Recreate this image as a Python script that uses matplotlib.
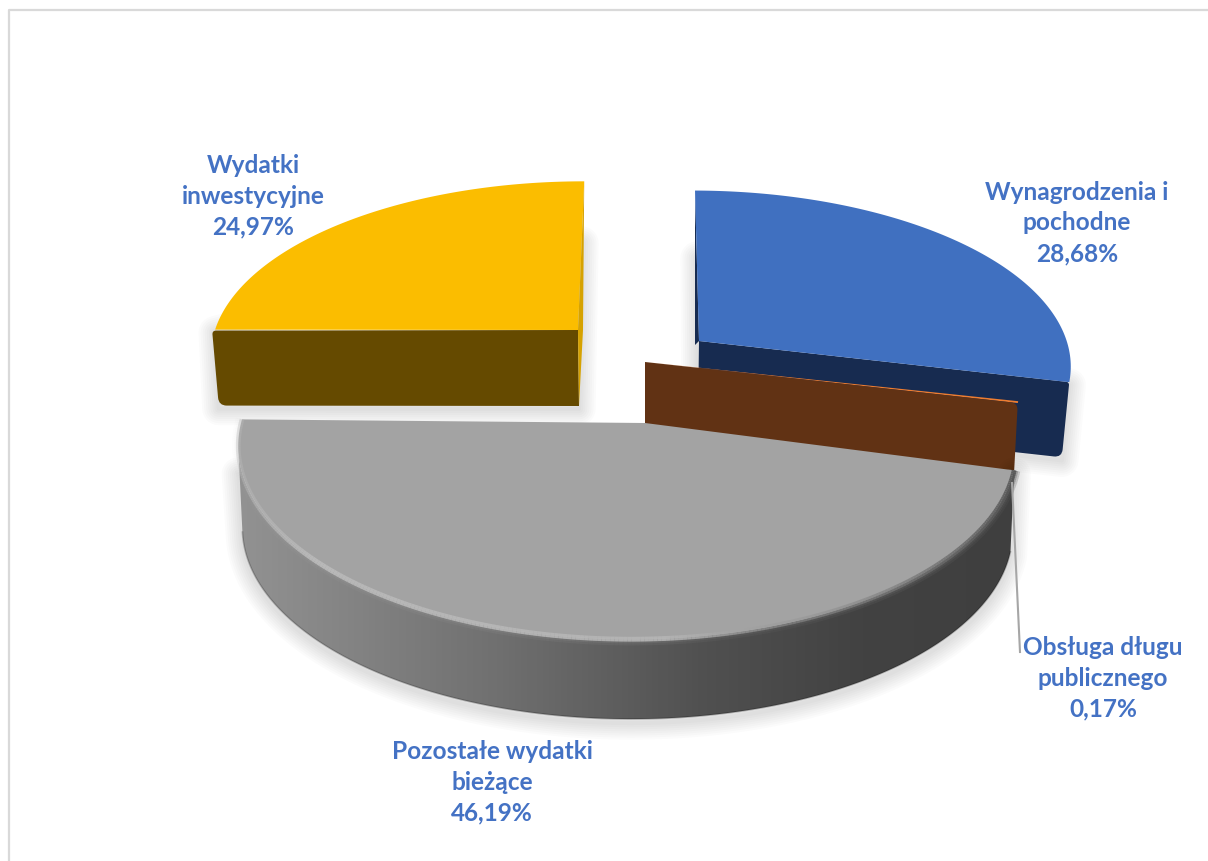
import numpy as np
import matplotlib
matplotlib.use("Agg")
import matplotlib.pyplot as plt
from matplotlib.collections import LineCollection
from matplotlib.colors import LinearSegmentedColormap
from matplotlib.patches import PathPatch, Polygon
from matplotlib.path import Path

names = ["Wynagrodzenia i\npochodne", "Obsługa długu\npublicznego",
         "Pozostałe wydatki\nbieżące", "Wydatki\ninwestycyjne"]
shares = [28.68, 0.17, 46.19, 24.97]
top_colors = ["#4070C0", "#ED7D31", "#A3A3A3", "#FBBD00"]
wall_colors = ["#172B50", "#613214", "#666666", "#654A00"]

# where each exploded slice sits on the canvas, in pixels
# cx, cy, rx, ry, near/far tilt (a, b), shear, roll, depth, bottom scale
slice_geo = [
    dict(cx=699, cy=341, rx=368, ry=170, a=0.0, b=0.13, s=4.5, t=1, dy=76, k=0.98),
    dict(cx=645, cy=362, rx=372, ry=166, a=0.0, b=0.13, s=0.0, t=0, dy=70, k=0.99),
    dict(cx=645, cy=423, rx=385, ry=188, a=0.045, b=0.13, s=0.0, t=3, dy=82, k=0.99),
    dict(cx=578, cy=330, rx=363, ry=168, a=0.0, b=0.13, s=-6.8, t=0, dy=76, k=0.99),
]
label_pos = [(1077, 223), (1103, 678), (492, 782), (253, 196)]
FONT_PT = 17.6
BLUE_TEXT = "#4472C4"


def project(theta, g, bottom=False):
    X, Y = np.cos(theta), -np.sin(theta)
    w = 1 + g["a"] * X - g["b"] * Y
    k = g["k"] if bottom else 1.0
    dy = g["dy"] if bottom else 0.0
    x = g["cx"] + k * (g["rx"] * X + g["s"] * Y) / w
    y = g["cy"] + dy + k * (g["ry"] * Y + g["t"] * X) / w
    return np.column_stack([x, y])


def rounded(points, radii):
    # closed polygon whose corners get a small quadratic curve
    pts = [np.array(p, float) for p in points]
    verts, codes = [], []
    n = len(pts)
    for i in range(n):
        p, prev, nxt = pts[i], pts[i - 1], pts[(i + 1) % n]
        r = radii[i]
        a = p + (prev - p) / np.linalg.norm(prev - p) * r
        b = p + (nxt - p) / np.linalg.norm(nxt - p) * r
        verts.append(a)
        codes.append(Path.MOVETO if i == 0 else Path.LINETO)
        if r > 0:
            verts += [p, b]
            codes += [Path.CURVE3, Path.CURVE3]
    verts.append(verts[0])
    codes.append(Path.CLOSEPOLY)
    return Path(verts, codes)


def soft_shadow(ax, pts, z, shift=(0, 3)):
    for lw in range(3, 27, 3):
        ax.add_patch(Polygon(np.asarray(pts) + shift, closed=True, fill=False, edgecolor="black",
                             alpha=0.014, lw=lw, joinstyle="round", zorder=z))


fig = plt.figure(figsize=(12.08, 8.61), dpi=100)
ax = fig.add_axes([0, 0, 1, 1])
ax.set_xlim(0, 1208)
ax.set_ylim(861, 0)
ax.axis("off")

# chart frame, only top and left fall inside the crop
ax.plot([9, 9, 1208], [861, 10, 10], color="#D9D9D9", lw=1.6, zorder=1)

# slice angles, clockwise from twelve o'clock
edges = np.radians(90 - np.cumsum([0] + shares) * 3.6)
starts, ends = edges[:-1], edges[1:]

# yellow slice
g = slice_geo[3]
arc = np.linspace(starts[3], ends[3], 120)
face = np.vstack([[g["cx"], g["cy"]], project(arc, g)])
left_top = project(np.array([starts[3]]), g)[0]
left_bot = project(np.array([starts[3]]), g, bottom=True)[0]
top_tip = project(np.array([ends[3]]), g)[0]
apex = np.array([g["cx"], g["cy"]])
apex_bot = np.array([g["cx"] + 1, g["cy"] + g["dy"]])
wall = [left_top + (-3, 1), apex, apex_bot, left_bot]
soft_shadow(ax, [left_top, (apex[0] + 4, 240), apex_bot, left_bot], 2)
ax.add_patch(Polygon(face, closed=True, fc=top_colors[3], ec="none", zorder=3))
ax.add_patch(PathPatch(rounded(wall, [4, 0, 0, 8]), fc=wall_colors[3], ec="none", zorder=3.2))
ax.add_patch(Polygon([top_tip, apex + (5, 0), apex_bot, apex], closed=True, fc="#D6A200", ec="none", zorder=3.3))

# blue slice
g = slice_geo[0]
arc = np.linspace(starts[0], ends[0], 120)
face = np.vstack([[g["cx"], g["cy"]], project(arc, g)])
corner = project(np.array([ends[0]]), g)[0]
corner_bot = project(np.array([ends[0]]), g, bottom=True)[0]
apex = np.array([g["cx"], g["cy"]])
wall = [apex, corner, corner_bot, apex + (-1, g["dy"])]
soft_shadow(ax, [(apex[0] - 2, 255), corner, corner_bot, apex + (-1, g["dy"])], 2)
ax.add_patch(PathPatch(rounded(wall, [0, 3, 8, 0]), fc=wall_colors[0], ec="none", zorder=4))
ax.add_patch(Polygon([face[1], apex, apex + (-4, 4)], closed=True, fc=wall_colors[0], ec="none", zorder=4.1))
ax.add_patch(Polygon(face, closed=True, fc=top_colors[0], ec="none", zorder=4.2))

# orange slice, nearly only its cut wall shows
g = slice_geo[1]
arc = np.linspace(starts[1], ends[1], 4)
face = np.vstack([[g["cx"], g["cy"]], project(arc, g)])
corner = project(np.array([ends[1]]), g)[0]
corner_bot = project(np.array([ends[1]]), g, bottom=True)[0]
apex = np.array([g["cx"], g["cy"]])
wall = [apex, corner, corner_bot, apex + (0, g["dy"])]
ax.add_patch(Polygon(face, closed=True, fc=top_colors[1], ec="none", zorder=5))
ax.add_patch(PathPatch(rounded(wall, [0, 7, 0, 0]), fc=wall_colors[1], ec="none", zorder=5.1))

# grey slice, round wall with a horizontal gradient
g = slice_geo[2]
arc = np.linspace(starts[2], ends[2], 300)
rim = project(arc, g)
rim_bot = project(arc, g, bottom=True)
face = np.vstack([[g["cx"], g["cy"]], rim])
# left side of the wall runs from the widest point of the rim, tangent to the lower arc
i_top = np.argmin(rim[:, 0])
below = rim_bot[:, 1] > rim[i_top, 1] + 1
slopes = np.where(below, (rim_bot[:, 0] - rim[i_top, 0]) / np.maximum(rim_bot[:, 1] - rim[i_top, 1], 1), np.inf)
j_bot = np.argmin(slopes)
outline = np.vstack([rim[:i_top + 1], rim_bot[:j_bot + 1][::-1]])
shadow_pts = outline.copy()
shadow_pts[:, 1] = np.maximum(shadow_pts[:, 1], 470)
soft_shadow(ax, shadow_pts, 5.5, shift=(0, 4))
wall_cmap = LinearSegmentedColormap.from_list("wall", [(0, "#929292"), (0.08, "#8A8A8A"), (0.33, "#707070"),
                                                       (0.6, "#505050"), (0.8, "#424242"), (1, "#3F3F3F")])
strip = ax.imshow(np.linspace(0, 1, 256).reshape(1, -1), cmap=wall_cmap, vmin=0, vmax=1,
                  extent=[238, 1018, 730, 410], aspect="auto", zorder=6)
strip.set_clip_path(Polygon(outline, closed=True, transform=ax.transData))
ax.set_xlim(0, 1208)
ax.set_ylim(861, 0)
ax.plot(rim_bot[:j_bot + 1, 0], rim_bot[:j_bot + 1, 1], color="black", alpha=0.22, lw=1.2, zorder=6.05)

# bevel along the rim: faint light line on the left, soft dark blend on the right
segs = np.stack([rim[:-1], rim[1:]], axis=1)
frac = (segs[:, 0, 0] - 240) / 775
for lw, strength in [(9, 0.25), (6, 0.35), (3, 0.6)]:
    shade = np.interp(frac, [0, 0.55, 0.75, 1], [0.74, 0.72, 0.52, 0.34])
    alpha = np.interp(frac, [0, 0.1, 0.55, 0.7, 1], [0.25, 0.6, 0.8, 0.35, 1.0]) * strength
    if lw > 3:
        alpha = alpha * np.interp(frac, [0, 0.6, 0.8, 1], [0.4, 0.4, 1, 1])
    bevel = np.column_stack([shade, shade, shade, alpha])
    ax.add_collection(LineCollection(segs, colors=bevel, lw=lw, zorder=6.1))
ax.add_patch(Polygon(face, closed=True, fc=top_colors[2], ec="none", zorder=6.2))
# inside band of the same bevel, it sits over the flat face
band = np.interp(frac, [0, 0.55, 0.75, 1], [0.74, 0.72, 0.56, 0.34])
band_alpha = np.interp(frac, [0, 0.1, 0.55, 0.72, 1], [0.35, 0.85, 0.8, 0.45, 0.9])
ax.add_collection(LineCollection(segs, colors=np.column_stack([band, band, band, band_alpha]), lw=3.5, zorder=6.3))

# thin leader for the tiny slice
ax.plot([1012, 1020], [483, 652], color="#A6A6A6", lw=1.5, zorder=7)

for name, value, (x, y) in zip(names, shares, label_pos):
    label = f"{name}\n{value:.2f}%".replace(".", ",")
    ax.text(x, y, label, ha="center", va="center", color=BLUE_TEXT, family="Lato",
            fontweight="bold", fontsize=FONT_PT, linespacing=1.42, zorder=8)

fig.savefig("out.png", dpi=100, facecolor="white")
